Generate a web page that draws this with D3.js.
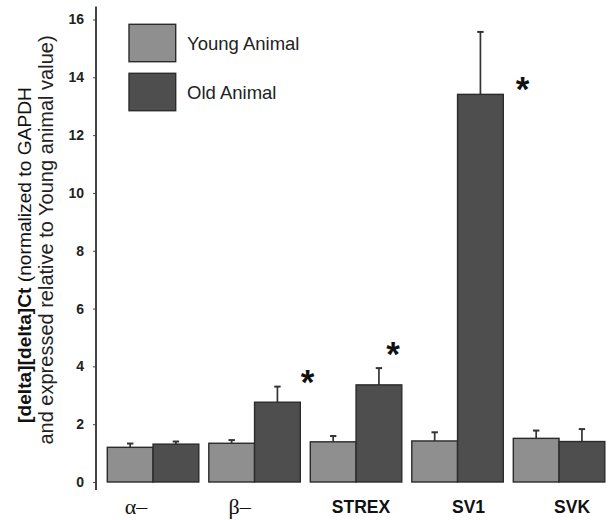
<!DOCTYPE html>
<html><head><meta charset="utf-8">
<script src="https://cdn.jsdelivr.net/npm/d3@7/dist/d3.min.js"></script>
<style>
html,body{margin:0;padding:0;background:#fff;}
svg{display:block;}
</style></head>
<body>
<svg id="chart" width="608" height="520"></svg>
<script>
// ---- data ----
const categories = ["α–", "β–", "STREX", "SV1", "SVK"];
const seriesNames = ["Young Animal", "Old Animal"];
const youngValues = [1.20, 1.34, 1.39, 1.42, 1.51];
const youngErrors = [0.13, 0.11, 0.20, 0.30, 0.27];
const oldValues = [1.31, 2.76, 3.36, 13.41, 1.40];
const oldErrors = [0.09, 0.54, 0.58, 2.16, 0.43];
const yTicks = [0, 2, 4, 6, 8, 10, 12, 14, 16];
const significance = [
  { category: "β–", y: 3.7 },
  { category: "STREX", y: 4.68 },
  { category: "SV1", y: 13.85 }
];

// ---- styles / layout ----
const colors = { "Young Animal": "#8f8f8f", "Old Animal": "#4e4e4e" };
const barStroke = "#2b2b2b";
const axisColor = "#444";
const sans = "'Liberation Sans', Arial, Helvetica, sans-serif";
const serif = "'Liberation Serif', 'Times New Roman', serif";

const svg = d3.select("#chart");

const y = d3.scaleLinear().domain([0, 16]).range([482, 19.5]);
const x0 = d3.scaleBand().domain(categories).range([107.3, 604.8]).paddingInner(0.0985).paddingOuter(0);
const x1 = d3.scaleBand().domain(seriesNames).range([0, x0.bandwidth()]).padding(0);

const rows = categories.map((c, i) => ({
  category: c,
  bars: [
    { series: "Young Animal", value: youngValues[i], err: youngErrors[i] },
    { series: "Old Animal", value: oldValues[i], err: oldErrors[i] }
  ]
}));

const groups = svg.append("g").selectAll("g").data(rows).join("g")
  .attr("transform", d => `translate(${x0(d.category)},0)`);

// error bars (upper only)
groups.selectAll("g.err").data(d => d.bars).join("g").attr("class", "err")
  .each(function (d) {
    const g = d3.select(this);
    const cx = x1(d.series) + x1.bandwidth() / 2;
    g.append("line").attr("x1", cx).attr("x2", cx)
      .attr("y1", y(d.value)).attr("y2", y(d.value + d.err))
      .attr("stroke", "#333").attr("stroke-width", 1.7);
    g.append("line").attr("x1", cx - 3.2).attr("x2", cx + 3.2)
      .attr("y1", y(d.value + d.err)).attr("y2", y(d.value + d.err))
      .attr("stroke", "#333").attr("stroke-width", 2);
  });

groups.selectAll("rect").data(d => d.bars).join("rect")
  .attr("x", d => x1(d.series))
  .attr("y", d => y(d.value))
  .attr("width", x1.bandwidth())
  .attr("height", d => y(0) - y(d.value))
  .attr("fill", d => colors[d.series])
  .attr("stroke", barStroke)
  .attr("stroke-width", 1.4);

// y axis
const yAxis = d3.axisLeft(y).tickValues(yTicks).tickSize(3).tickPadding(9).tickFormat(d3.format("d"));
const gy = svg.append("g").attr("transform", "translate(96,0)").call(yAxis);
gy.select(".domain").remove();
gy.selectAll(".tick line").attr("stroke", axisColor).attr("stroke-width", 1);
gy.selectAll(".tick text").attr("font-family", sans).attr("font-weight", "bold")
  .attr("font-size", 14).attr("fill", "#222");
gy.append("line").attr("x1", 0).attr("x2", 0)
  .attr("y1", y(16.45)).attr("y2", y(-0.28))
  .attr("stroke", axisColor).attr("stroke-width", 2);

// x labels
const labelDx = { "α–": -17, "β–": -15, "STREX": 5, "SV1": 11, "SVK": 13 };
const isGreek = d => /^[αβ]/.test(d);
svg.append("g").selectAll("text").data(categories).join("text")
  .attr("x", d => x0(d) + x0.bandwidth() / 2 + labelDx[d])
  .attr("y", d => isGreek(d) ? 514 : 513)
  .attr("text-anchor", "middle")
  .attr("font-family", d => isGreek(d) ? serif : sans)
  .attr("font-weight", d => isGreek(d) ? "normal" : "bold")
  .attr("font-size", d => isGreek(d) ? 22 : 17.5)
  .attr("fill", "#111")
  .text(d => d);

// significance asterisks
const starDx = { "β–": 53, "STREX": 37, "SV1": 65 };
svg.append("g").selectAll("text").data(significance).join("text")
  .attr("x", d => x0(d.category) + x1("Old Animal") + starDx[d.category])
  .attr("y", d => y(d.y) + 19)
  .attr("text-anchor", "middle")
  .attr("font-family", sans).attr("font-weight", "bold").attr("font-size", 35)
  .attr("fill", "#111")
  .text("*");

// legend
const legend = svg.append("g").attr("transform", "translate(129,24.3)");
seriesNames.forEach((s, i) => {
  const g = legend.append("g").attr("transform", `translate(0,${i * 49})`);
  g.append("rect").attr("width", 46.7).attr("height", 37.4)
    .attr("fill", colors[s]).attr("stroke", barStroke).attr("stroke-width", 1.4);
  g.append("text").attr("x", 58).attr("y", 19).attr("dy", "0.35em")
    .attr("font-family", sans).attr("font-size", 18.5).attr("fill", "#222").text(s);
});

// y title
const t1 = svg.append("text").attr("transform", "translate(0,255) rotate(-90)")
  .attr("x", 0).attr("y", 31).attr("text-anchor", "middle")
  .attr("font-family", sans).attr("font-size", 19.2).attr("fill", "#111");
t1.append("tspan").attr("font-weight", "bold").text("[delta][delta]Ct");
t1.append("tspan").text(" (normalized to GAPDH");
svg.append("text").attr("transform", "translate(0,240) rotate(-90)")
  .attr("x", 0).attr("y", 53).attr("text-anchor", "middle")
  .attr("font-family", sans).attr("font-size", 20).attr("fill", "#222")
  .text("and expressed relative to Young animal value)");
</script>
</body></html>
